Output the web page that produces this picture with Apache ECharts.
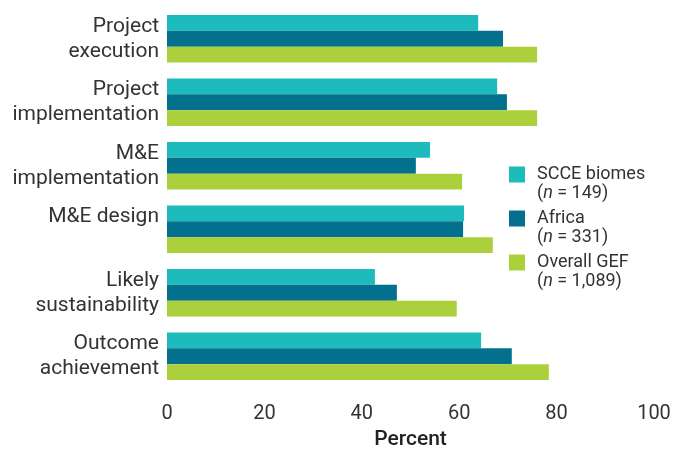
<!DOCTYPE html>
<html>
<head>
<meta charset="utf-8">
<script src="https://cdn.jsdelivr.net/npm/echarts@6/dist/echarts.min.js"></script>
<style>
html,body{margin:0;padding:0;background:#fff;}
#chart{width:675px;height:455px;}
</style>
</head>
<body>
<div id="chart"></div>
<script>
var categories = ['Project\nexecution', 'Project\nimplementation', 'M&E\nimplementation', 'M&E design', 'Likely\nsustainability', 'Outcome\nachievement'];
var seriesNames = ['SCCE biomes', 'Africa', 'Overall GEF'];
var legendCounts = ['149', '331', '1,089'];
var scceValues = [63.9, 67.8, 54.0, 61.0, 42.7, 64.5];
var africaValues = [69.0, 69.8, 51.1, 60.8, 47.2, 70.8];
var overallValues = [76.0, 76.0, 60.6, 66.9, 59.5, 78.4];
var xTicks = [0, 20, 40, 60, 80, 100];
var colors = ['#1dbbbc', '#03718e', '#abd03b'];

var FONT = 'Roboto';
var chart = echarts.init(document.getElementById('chart'));
var allValues = [scceValues, africaValues, overallValues];
chart.setOption({
  animation: false,
  textStyle: {fontFamily: FONT},
  grid: {left: 167, right: 21, top: 7, bottom: 64, containLabel: false},
  legend: {
    orient: 'vertical',
    left: 509,
    top: 146,
    padding: 0,
    itemWidth: 16,
    itemHeight: 16,
    itemGap: -13,
    icon: 'rect',
    data: seriesNames,
    formatter: function (name) {
      var i = seriesNames.indexOf(name);
      return '\n' + name + '\n({i|n} = ' + legendCounts[i] + ')';
    },
    textStyle: {
      fontFamily: FONT,
      fontSize: 18,
      lineHeight: 19,
      color: '#333',
      padding: [0, 0, 0, 7],
      rich: {
        i: {fontStyle: 'italic', fontFamily: FONT, fontSize: 18, lineHeight: 19, color: '#333'}
      }
    }
  },
  xAxis: {
    type: 'value',
    min: 0,
    max: 100,
    interval: 20,
    axisLine: {show: false},
    axisTick: {show: false},
    splitLine: {show: false},
    axisLabel: {
      fontFamily: FONT, fontSize: 20, color: '#333', margin: 16,
      formatter: function (v) { return xTicks.indexOf(v) >= 0 ? String(v) : ''; }
    },
    name: 'Percent',
    nameLocation: 'middle',
    nameGap: 41,
    nameTextStyle: {fontFamily: FONT, fontSize: 21, fontWeight: 500, color: '#222'}
  },
  yAxis: {
    type: 'category',
    inverse: true,
    data: categories,
    axisLine: {show: false},
    axisTick: {show: false},
    axisLabel: {
      fontFamily: FONT, fontSize: 21, lineHeight: 25, color: '#333', margin: 8, align: 'right',
      formatter: function (v) { return v.indexOf('\n') >= 0 ? v : v + '\n '; }
    }
  },
  series: seriesNames.map(function (n, i) {
    return {
      name: n,
      type: 'bar',
      data: allValues[i],
      barGap: '0%',
      barCategoryGap: '25%',
      itemStyle: {color: colors[i]}
    };
  })
});
</script>
</body>
</html>
